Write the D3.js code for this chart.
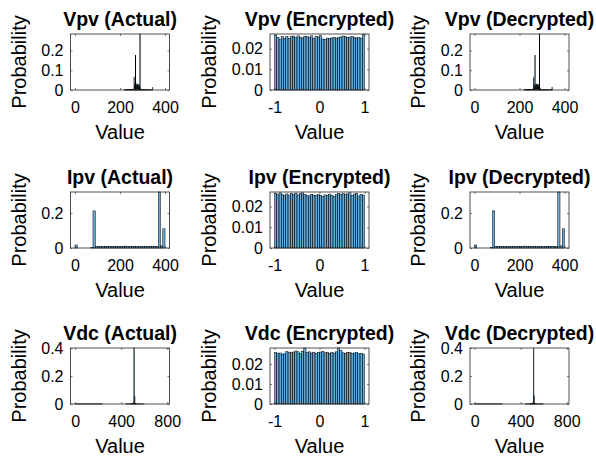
<!DOCTYPE html>
<html lang="en">
<head>
    <meta charset="UTF-8">
    <title>Histograms: Actual / Encrypted / Decrypted</title>
    <script src="https://d3js.org/d3.v7.min.js"></script>
    <style>
        body { margin: 0; background: #fff; }
        text { font-family: "Liberation Sans", Arial, Helvetica, sans-serif; fill: #000; }
        .bar { fill: #0072BD; fill-opacity: 0.6; stroke: #000; stroke-width: 0.5; }
        .box { fill: none; stroke: #262626; stroke-width: 0.8; }
        .tick line { stroke: #262626; stroke-width: 0.6; }
    </style>
</head>
<body>
<script>
    // Figure size
    const width = 596;
    const height = 462;

    // Histogram data (bin width + first edge + probability per bin)
    const vpvWidth = 2, vpvStart = 220;
    const vpvProb = [0.001, 0.001, 0.002, 0.001, 0.001, 0.002, 0.001, 0.002, 0.002, 0.001,
                     0.002, 0.003, 0.002, 0.002, 0.003, 0.003, 0.002, 0.004, 0.003, 0.004,
                     0.005, 0.066, 0.030, 0.012, 0.176, 0.020, 0.025, 0.031, 0.028, 0.024,
                     0.029, 0.022, 0.026, 0.018, 0.284, 0.010, 0.004, 0.002, 0.001, 0.001,
                     0.002, 0.001, 0.001, 0.001, 0.002, 0.001, 0.001, 0.001, 0.001, 0.002,
                     0.001, 0.001, 0.001, 0.001, 0.001, 0.001, 0.001, 0.001, 0.001, 0.001,
                     0.001, 0.001, 0.012];

    const ipvWidth = 10, ipvStart = 0;
    const ipvProb = [0.017, 0, 0, 0, 0, 0, 0, 0.002, 0.212, 0.010,
                     0.009, 0.010, 0.009, 0.010, 0.010, 0.009, 0.010, 0.009, 0.010, 0.010,
                     0.009, 0.010, 0.011, 0.010, 0.009, 0.010, 0.010, 0.009, 0.010, 0.009,
                     0.010, 0.009, 0.010, 0.010, 0.009, 0.010, 0.010, 0.330, 0.012, 0.110];

    const vdcWidth = 5, vdcStart = 0;
    const vdcProb = [0.0005, 0.0005, 0.0005, 0.0005, 0.0005, 0.0005, 0.0005, 0.0005, 0.0005, 0.0005,
                     0.0005, 0.0005, 0.0005, 0.0005, 0.0005, 0.0005, 0.0005, 0.0005, 0.0005, 0.0005,
                     0.0005, 0.0005, 0.0005, 0.0005, 0.0005, 0.0005, 0.0005, 0.0005, 0.0005, 0.0005,
                     0.0005, 0.0005, 0.0005, 0.0005, 0.0005, 0.0005, 0.0005, 0.0005, 0.0005, 0.0005,
                     0.0005, 0.0005, 0.0005, 0.0005, 0.0005, 0.0005, 0.0005, 0.0005, 0, 0,
                     0, 0, 0, 0, 0, 0, 0, 0, 0, 0,
                     0, 0, 0, 0, 0, 0, 0, 0, 0, 0,
                     0, 0, 0, 0, 0, 0, 0, 0, 0, 0,
                     0, 0, 0, 0, 0, 0, 0, 0, 0.0005, 0.0005,
                     0.0005, 0.0005, 0.0005, 0.0005, 0.0005, 0.001, 0.001, 0.002, 0.002, 0.003,
                     0.006, 0.008, 0.420, 0.058, 0.004, 0.002, 0.001, 0.001, 0.0005, 0.0005,
                     0.0005, 0.0005, 0.0005, 0.0005, 0.0005, 0.0005, 0.0005, 0.0005, 0.0005, 0.0005];

    // Encrypted signals: 40 bins over [-1, 1]
    const encWidth = 0.05, encStart = -1;
    const vpvEncProb = [0.0266, 0.0255, 0.0246, 0.0258, 0.0251, 0.0260, 0.0250, 0.0258, 0.0261, 0.0254,
                        0.0262, 0.0256, 0.0252, 0.0260, 0.0258, 0.0255, 0.0262, 0.0249, 0.0259, 0.0257,
                        0.0262, 0.0247, 0.0245, 0.0251, 0.0250, 0.0252, 0.0254, 0.0249, 0.0253, 0.0257,
                        0.0261, 0.0258, 0.0255, 0.0256, 0.0259, 0.0254, 0.0252, 0.0255, 0.0251, 0.0270];
    const ipvEncProb = [0.0262, 0.0258, 0.0266, 0.0257, 0.0252, 0.0261, 0.0255, 0.0263, 0.0259, 0.0265,
                        0.0256, 0.0262, 0.0266, 0.0258, 0.0254, 0.0251, 0.0259, 0.0255, 0.0253, 0.0257,
                        0.0254, 0.0248, 0.0256, 0.0252, 0.0260, 0.0255, 0.0250, 0.0258, 0.0262, 0.0259,
                        0.0263, 0.0257, 0.0261, 0.0266, 0.0254, 0.0260, 0.0264, 0.0251, 0.0259, 0.0255];
    const vdcEncProb = [0.0257, 0.0254, 0.0255, 0.0249, 0.0251, 0.0262, 0.0259, 0.0256, 0.0260, 0.0265,
                        0.0261, 0.0252, 0.0264, 0.0280, 0.0257, 0.0261, 0.0255, 0.0259, 0.0253, 0.0257,
                        0.0260, 0.0263, 0.0256, 0.0259, 0.0254, 0.0257, 0.0255, 0.0261, 0.0280, 0.0268,
                        0.0256, 0.0252, 0.0258, 0.0259, 0.0253, 0.0255, 0.0257, 0.0251, 0.0254, 0.0250];

    // Titles, axis limits and ticks
    const signals = ["Vpv", "Ipv", "Vdc"];
    const versions = ["Actual", "Encrypted", "Decrypted"];
    const rawX = {
        Vpv: { domain: [-20, 420], ticks: [0, 200, 400] },
        Ipv: { domain: [-20, 420], ticks: [0, 200, 400] },
        Vdc: { domain: [-40, 820], ticks: [0, 400, 800] }
    };
    const rawY = {
        Vpv: { domain: [0, 0.284], ticks: [0, 0.1, 0.2] },
        Ipv: { domain: [0, 0.32], ticks: [0, 0.2] },
        Vdc: { domain: [0, 0.4], ticks: [0, 0.2, 0.4] }
    };
    const encX = { domain: [-1.1, 1.1], ticks: [-1, 0, 1] };
    const encY = {
        Vpv: { domain: [0, 0.0271], ticks: [0, 0.01, 0.02] },
        Ipv: { domain: [0, 0.027], ticks: [0, 0.01, 0.02] },
        Vdc: { domain: [0, 0.028], ticks: [0, 0.01, 0.02] }
    };
    const rawData = {
        Vpv: { start: vpvStart, w: vpvWidth, p: vpvProb },
        Ipv: { start: ipvStart, w: ipvWidth, p: ipvProb },
        Vdc: { start: vdcStart, w: vdcWidth, p: vdcProb }
    };
    const encData = { Vpv: vpvEncProb, Ipv: ipvEncProb, Vdc: vdcEncProb };

    // Subplot layout
    const colLeft = [70.5, 270, 470];
    const rowTop = [34, 192, 348];
    const aw = 99, ah = 56;

    const svg = d3.select("body").append("svg")
        .attr("width", width)
        .attr("height", height);

    signals.forEach((sig, r) => {
        versions.forEach((ver, c) => {
            const enc = ver === "Encrypted";
            const xs = enc ? encX : rawX[sig];
            const ys = enc ? encY[sig] : rawY[sig];
            const src = enc ? { start: encStart, w: encWidth, p: encData[sig] } : rawData[sig];
            const bins = src.p.map((p, i) => ({ x0: src.start + i * src.w, x1: src.start + (i + 1) * src.w, p }));

            const g = svg.append("g")
                .attr("transform", `translate(${colLeft[c]},${rowTop[r]})`);

            const x = d3.scaleLinear().domain(xs.domain).range([0, aw]);
            const y = d3.scaleLinear().domain(ys.domain).range([ah, 0]).clamp(true);

            // bars
            g.selectAll("rect.bar")
                .data(bins)
                .enter().append("rect")
                .attr("class", "bar")
                .attr("x", d => x(d.x0))
                .attr("width", d => x(d.x1) - x(d.x0))
                .attr("y", d => y(d.p))
                .attr("height", d => ah - y(d.p));

            // axes with inward ticks (MATLAB style, box on)
            const fmt = d => String(d);
            g.append("g")
                .attr("transform", `translate(0,${ah})`)
                .call(d3.axisBottom(x).tickValues(xs.ticks).tickFormat(fmt).tickSizeInner(-2).tickSizeOuter(0).tickPadding(12));
            g.append("g")
                .call(d3.axisTop(x).tickValues(xs.ticks).tickFormat("").tickSizeInner(-2).tickSizeOuter(0));
            const yAxis = g.append("g")
                .call(d3.axisLeft(y).tickValues(ys.ticks).tickFormat(fmt).tickSizeInner(-2).tickSizeOuter(0).tickPadding(7));
            g.append("g")
                .attr("transform", `translate(${aw},0)`)
                .call(d3.axisRight(y).tickValues(ys.ticks).tickFormat("").tickSizeInner(-2).tickSizeOuter(0));

            g.selectAll(".domain").remove();
            g.selectAll(".tick text")
                .style("font-size", "16px")
                .attr("fill", "#000");

            // frame
            g.append("rect")
                .attr("class", "box")
                .attr("width", aw)
                .attr("height", ah);

            // title
            g.append("text")
                .attr("x", aw / 2)
                .attr("y", -8)
                .attr("text-anchor", "middle")
                .style("font-size", "19.5px")
                .style("font-weight", "bold")
                .text(`${sig} (${ver})`);

            // x label
            g.append("text")
                .attr("x", aw / 2)
                .attr("y", ah + 48.5)
                .attr("text-anchor", "middle")
                .style("font-size", "20px")
                .text("Value");

            // y label, placed left of widest tick label
            let maxW = 0;
            yAxis.selectAll(".tick text").each(function () {
                maxW = Math.max(maxW, this.getComputedTextLength());
            });
            const lx = -7 - maxW - 15.5;
            g.append("text")
                .attr("transform", `translate(${lx},${ah / 2}) rotate(-90)`)
                .attr("text-anchor", "middle")
                .style("font-size", "20px")
                .text("Probability");
        });
    });
</script>
</body>
</html>
